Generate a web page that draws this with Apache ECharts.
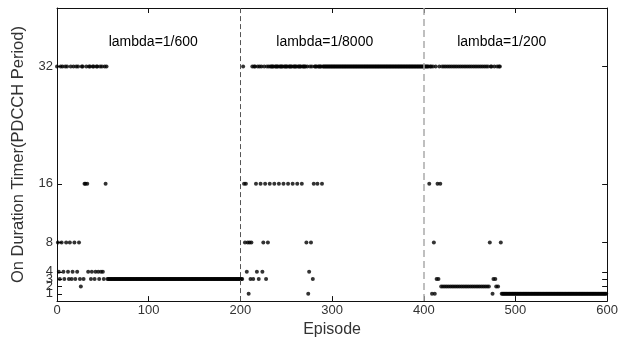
<!DOCTYPE html>
<html>
<head>
<meta charset="utf-8">
<script src="https://cdn.jsdelivr.net/npm/echarts@6/dist/echarts.min.js"></script>
<style>
html,body{margin:0;padding:0;background:#fff;}
#chart{width:621px;height:343px;}
</style>
</head>
<body>
<div id="chart"></div>
<script>
// On Duration Timer value chosen at each episode (index = episode 0..599)
var timerValues = [
 32,8,4,3,32,8,32,4,3,32,8,32,4,3,8,32,3,4,32,8,
 3,32,4,32,8,3,2,32,32,3,16,16,32,16,4,32,32,3,4,32,
 32,3,4,32,32,4,3,32,4,32,4,3,32,16,32,3,3,3,3,3,
 3,3,3,3,3,3,3,3,3,3,3,3,3,3,3,3,3,3,3,3,
 3,3,3,3,3,3,3,3,3,3,3,3,3,3,3,3,3,3,3,3,
 3,3,3,3,3,3,3,3,3,3,3,3,3,3,3,3,3,3,3,3,
 3,3,3,3,3,3,3,3,3,3,3,3,3,3,3,3,3,3,3,3,
 3,3,3,3,3,3,3,3,3,3,3,3,3,3,3,3,3,3,3,3,
 3,3,3,3,3,3,3,3,3,3,3,3,3,3,3,3,3,3,3,3,
 3,3,3,3,3,3,3,3,3,3,3,3,3,3,3,3,3,3,3,3,
 3,3,3,32,16,8,16,4,8,1,8,3,8,32,3,32,32,16,4,32,
 3,32,16,32,4,8,32,16,3,32,8,32,16,32,32,32,32,16,32,32,
 32,32,16,32,32,32,32,16,32,32,32,32,16,32,32,32,32,16,32,32,
 32,32,16,32,32,32,32,16,32,32,32,32,8,32,1,4,32,8,32,3,
 16,32,32,32,16,32,32,32,32,16,32,32,32,32,32,32,32,32,32,32,
 32,32,32,32,32,32,32,32,32,32,32,32,32,32,32,32,32,32,32,32,
 32,32,32,32,32,32,32,32,32,32,32,32,32,32,32,32,32,32,32,32,
 32,32,32,32,32,32,32,32,32,32,32,32,32,32,32,32,32,32,32,32,
 32,32,32,32,32,32,32,32,32,32,32,32,32,32,32,32,32,32,32,32,
 32,32,32,32,32,32,32,32,32,32,32,32,32,32,32,32,32,32,32,32,
 32,32,32,32,32,32,16,32,32,1,32,8,1,32,3,16,3,32,16,2,
 32,2,32,2,32,2,32,2,32,2,32,2,32,2,32,2,32,2,32,2,
 32,2,32,2,32,2,32,2,32,2,32,2,32,2,32,2,32,2,32,2,
 32,2,32,2,32,2,32,2,32,2,32,2,8,32,32,1,3,32,3,2,
 32,2,32,32,8,1,1,1,1,1,1,1,1,1,1,1,1,1,1,1,
 1,1,1,1,1,1,1,1,1,1,1,1,1,1,1,1,1,1,1,1,
 1,1,1,1,1,1,1,1,1,1,1,1,1,1,1,1,1,1,1,1,
 1,1,1,1,1,1,1,1,1,1,1,1,1,1,1,1,1,1,1,1,
 1,1,1,1,1,1,1,1,1,1,1,1,1,1,1,1,1,1,1,1,
 1,1,1,1,1,1,1,1,1,1,1,1,1,1,1,1,1,1,1,1
];
var yTickValues = [1,2,3,4,8,16,32];
// labels split over two overlaid axes so adjacent small labels are not dropped
var yLabelsA = [1,3,8,32];
var yLabelsB = [2,4,16];
var xTickLabels = [0,100,200,300,400,500,600];
var phaseBoundaries = [200,400];
var lambdaLabels = ['lambda=1/600','lambda=1/8000','lambda=1/200'];

var points = timerValues.map(function(v,i){return [i,v];});
var FONT = 'Liberation Sans, Arial, sans-serif';

var chart = echarts.init(document.getElementById('chart'));
var tickStyle = {show:true, inside:true, length:5, lineStyle:{color:'#111', width:1}};
var lineStyle = {show:true, onZero:false, lineStyle:{color:'#111', width:1}};
var yLabelStyle = function(vals){
  return {color:'#333', fontSize:13, fontFamily:FONT, margin:4,
    hideOverlap:false, showMinLabel:true, showMaxLabel:true, customValues:vals};
};
chart.setOption({
  animation:false,
  backgroundColor:'#fff',
  grid:{left:57, right:13, top:8, bottom:33, containLabel:false},
  xAxis:[{
    type:'value', min:0, max:600, interval:100, position:'bottom',
    axisLine:lineStyle, axisTick:tickStyle, splitLine:{show:false},
    axisLabel:{color:'#333', fontSize:13, fontFamily:FONT, margin:3,
      hideOverlap:false, showMinLabel:true, showMaxLabel:true,
      customValues:xTickLabels},
    name:'Episode', nameLocation:'middle', nameGap:17,
    nameTextStyle:{color:'#333', fontSize:16, fontFamily:FONT}
  },{
    type:'value', min:0, max:600, interval:100, position:'top',
    axisLine:lineStyle, axisTick:tickStyle, axisLabel:{show:false}, splitLine:{show:false}
  }],
  yAxis:[{
    type:'value', min:0, max:40, interval:1, position:'left',
    axisLine:lineStyle,
    axisTick:{show:true, inside:true, length:5, lineStyle:{color:'#111'}, customValues:yTickValues},
    axisLabel:yLabelStyle(yLabelsA),
    splitLine:{show:false},
    name:'On Duration Timer(PDCCH Period)', nameLocation:'middle', nameGap:30,
    nameTextStyle:{color:'#333', fontSize:16.5, fontFamily:FONT}
  },{
    type:'value', min:0, max:40, interval:1, position:'right',
    axisLine:lineStyle,
    axisTick:{show:true, inside:true, length:5, lineStyle:{color:'#111'}, customValues:yTickValues},
    axisLabel:{show:false}, splitLine:{show:false}
  },{
    type:'value', min:0, max:40, interval:1, position:'left', offset:0,
    axisLine:{show:false}, axisTick:{show:false},
    axisLabel:yLabelStyle(yLabelsB),
    splitLine:{show:false}
  }],
  series:[{
    type:'scatter', xAxisIndex:0, yAxisIndex:0,
    data:points, symbol:'circle', symbolSize:4,
    itemStyle:{color:'#000'},
    markLine:{
      silent:true, symbol:'none', label:{show:false},
      data:[
        {xAxis:phaseBoundaries[0], lineStyle:{color:'#555', type:[5,3], width:1}},
        {xAxis:phaseBoundaries[1], lineStyle:{color:'#aaa', type:[7,4], width:1.5}}
      ]
    },
    markPoint:{
      silent:true, symbol:'circle', symbolSize:0,
      label:{show:true, color:'#000', fontSize:14, fontFamily:FONT, position:'inside',
        formatter:function(p){return p.name;}},
      data:[
        {name:lambdaLabels[0], coord:[105,35.4]},
        {name:lambdaLabels[1], coord:[292,35.4]},
        {name:lambdaLabels[2], coord:[485,35.4]}
      ]
    }
  }]
});
</script>
</body>
</html>
